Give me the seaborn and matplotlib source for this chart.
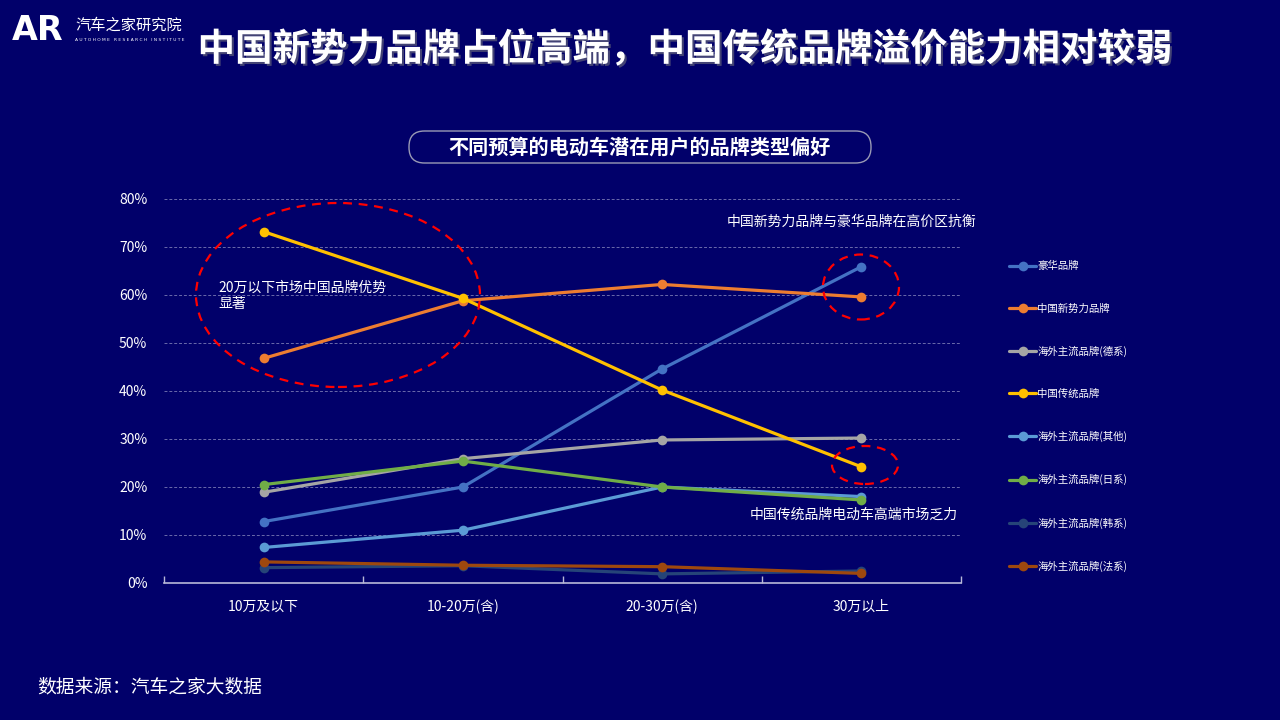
import matplotlib
matplotlib.use("Agg")
import matplotlib.pyplot as plt
import matplotlib.patheffects as pe
from matplotlib.patches import Ellipse, FancyBboxPatch
import seaborn as sns
import pandas as pd

categories = ["10万及以下", "10-20万(含)", "20-30万(含)", "30万以上"]
series_names = ["豪华品牌", "中国新势力品牌", "海外主流品牌(德系)", "中国传统品牌",
                "海外主流品牌(其他)", "海外主流品牌(日系)", "海外主流品牌(韩系)", "海外主流品牌(法系)"]
luxury = [12.8, 20.0, 44.6, 65.9]
cn_new = [46.8, 58.8, 62.2, 59.6]
german = [18.9, 25.9, 29.8, 30.2]
cn_trad = [73.2, 59.3, 40.2, 24.2]
other = [7.4, 11.0, 20.0, 18.0]
japan = [20.5, 25.4, 20.0, 17.3]
korea = [3.2, 3.6, 1.9, 2.5]
france = [4.4, 3.7, 3.4, 2.0]
yticks = [0, 10, 20, 30, 40, 50, 60, 70, 80]
colors = ["#4472C4", "#ED7D31", "#A5A5A5", "#FFC000", "#5B9BD5", "#70AD47", "#264478", "#9E480E"]

all_vals = [luxury, cn_new, german, cn_trad, other, japan, korea, france]
rows = []
for name, vals in zip(series_names, all_vals):
    for i, v in enumerate(vals):
        rows.append({"pos": i, "value": v, "series": name})
df = pd.DataFrame(rows)

sns.set_style("white")
plt.rcParams["font.family"] = ["Noto Sans CJK SC", "DejaVu Sans"]
BG = "#01006A"
fig = plt.figure(figsize=(12.8, 7.2), dpi=100, facecolor=BG)
ax = fig.add_axes([164/1280, 1-583/720, (961-164)/1280, (583-199)/720])
ax.set_facecolor(BG)

sns.lineplot(data=df, x="pos", y="value", hue="series", hue_order=series_names,
             palette=colors, marker="o", markersize=7, markeredgewidth=0,
             linewidth=2.3, ax=ax, legend=True)

ax.set_xlim(-0.5, 3.5)
ax.set_ylim(0, 80)
ax.set_yticks(yticks)
ax.set_yticklabels([f"{t}%" for t in yticks])
ax.set_xticks(range(len(categories)))
ax.set_xticklabels(categories)
ax.set_xticks([-0.5, 0.5, 1.5, 2.5, 3.5], minor=True)
ax.tick_params(axis="x", which="major", length=0, pad=12, colors="white", labelsize=10)
ax.tick_params(axis="x", which="minor", bottom=True, length=5, direction="in",
               color="#B8B8D8", width=1)
ax.tick_params(axis="y", length=0, pad=12, colors="white", labelsize=10)
ax.set_xlabel("")
ax.set_ylabel("")
for s in ["top", "right", "left"]:
    ax.spines[s].set_visible(False)
ax.spines["bottom"].set_color("#B8B8D8")
ax.spines["bottom"].set_linewidth(1.2)
for t in yticks[1:]:
    ax.axhline(t, color="#6A6AAA", linestyle=(0, (3, 2)), linewidth=0.7, zorder=0)

handles, labels = ax.get_legend_handles_labels()
ax.get_legend().remove()
leg = fig.legend(handles, labels, loc="upper left", bbox_to_anchor=(1005/1280, 1-257/720),
                 frameon=False, fontsize=7.5, labelspacing=3.07, handlelength=2.6,
                 handletextpad=0.1, borderaxespad=0)
for t in leg.get_texts():
    t.set_color("white")

# Ellipses (annotations)
def ell(cx, cy, w, h):
    e = Ellipse((cx/1280, 1-cy/720), w/1280, h/720, transform=fig.transFigure,
                fill=False, edgecolor="#FF0000", linestyle=(0, (4, 3)), linewidth=1.6,
                clip_on=False, zorder=10)
    fig.patches.append(e)

ell(338, 295, 284, 184)
ell(861, 287, 76, 65)
ell(865, 465, 66, 38)

fig.text(218/1280, 1-296/720, "20万以下市场中国品牌优势\n显著", color="white", fontsize=10,
         ha="left", va="center", linespacing=1.15)
fig.text(976/1280, 1-222/720, "中国新势力品牌与豪华品牌在高价区抗衡", color="white",
         fontsize=10, ha="right", va="center")
fig.text(958/1280, 1-515/720, "中国传统品牌电动车高端市场乏力", color="white",
         fontsize=10, ha="right", va="center")

# Titles
fig.text(685/1280, 1-49/720, "中国新势力品牌占位高端，中国传统品牌溢价能力相对较弱",
         color="white", fontsize=27, fontweight="bold", ha="center", va="center",
         path_effects=[pe.withSimplePatchShadow(offset=(1.5, -1.5), shadow_rgbFace="#555577", alpha=0.8)])

bax = fig.add_axes([408/1280, 1-164/720, 464/1280, 34/720])
bax.set_xlim(0, 464)
bax.set_ylim(0, 34)
bax.axis("off")
bax.patch.set_alpha(0)
box = FancyBboxPatch((1, 1), 462, 32, boxstyle="round,pad=0,rounding_size=15.5",
                     facecolor="none", edgecolor="#9A9AB5", linewidth=1.0)
bax.add_patch(box)
bax.text(232, 17, "不同预算的电动车潜在用户的品牌类型偏好", color="white",
         fontsize=14.5, fontweight="bold", ha="center", va="center")

# Logo
fig.text(12/1280, 1-31/720, "AR", color="white", fontsize=24, fontweight="bold",
         ha="left", va="center", family=["DejaVu Sans"])
fig.text(75/1280, 1-25/720, "汽车之家研究院", color="white", fontsize=11, ha="left", va="center")
fig.text(75/1280, 1-40/720, "A U T O H O M E   R E S E A R C H   I N S T I T U T E", color="white",
         fontsize=3.2, ha="left", va="center", family=["DejaVu Sans"])

fig.text(37/1280, 1-687/720, "数据来源：汽车之家大数据", color="white", fontsize=13.5,
         ha="left", va="center")

fig.savefig("out.png", dpi=100, facecolor=BG)
